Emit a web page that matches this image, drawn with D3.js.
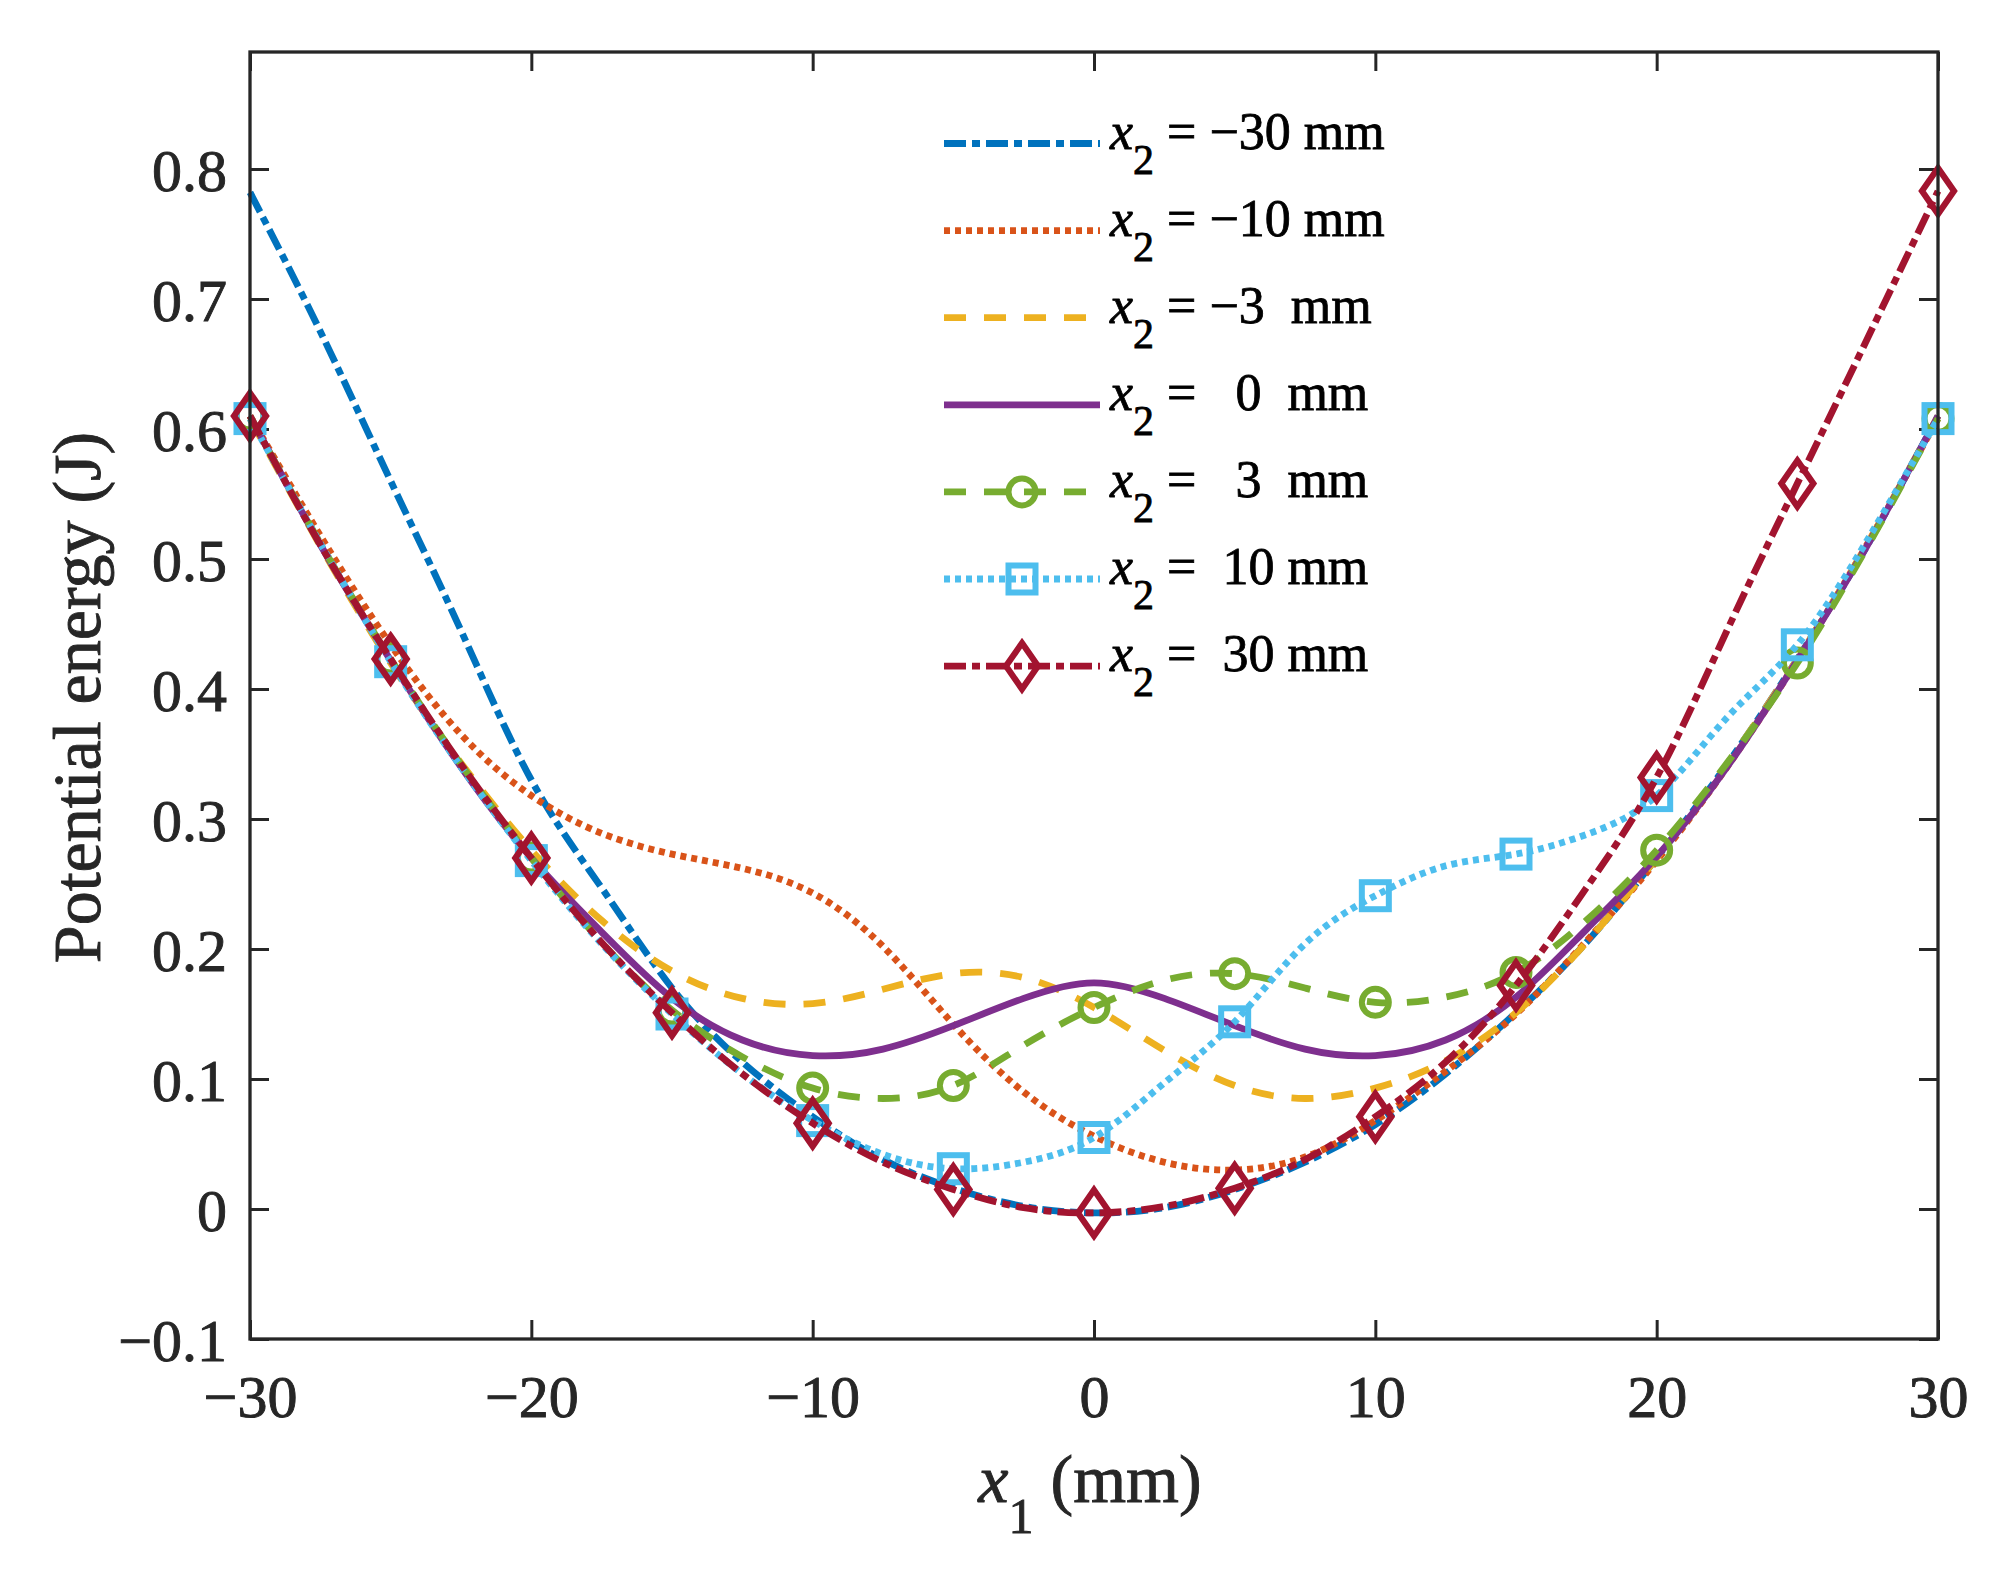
<!DOCTYPE html>
<html>
<head>
<meta charset="utf-8">
<script src="https://cdn.jsdelivr.net/npm/d3@7"></script>
<style>
  html, body { margin: 0; padding: 0; background: #fff; }
  svg { display: block; font-family: "Liberation Serif", "Times New Roman", Times, serif; }
  text { white-space: pre; }
</style>
</head>
<body>
<svg id="chart" width="2008" height="1576"></svg>
<script>
// ---------------- DATA ----------------
const x1Values = [-30,-27.5,-25,-22.5,-20,-17.5,-15,-12.5,-10,-7.5,-5,-2.5,0,2.5,5,7.5,10,12.5,15,17.5,20,22.5,25,27.5,30];

const potX2m30 = [0.782,0.675,0.560,0.445,0.330,0.247,0.170,0.113,0.071,0.038,0.016,0.002,-0.003,0.001,0.015,0.036,0.065,0.104,0.151,0.205,0.270,0.342,0.423,0.511,0.610];
const potX2m10 = [0.610,0.518,0.434,0.365,0.318,0.289,0.273,0.262,0.243,0.202,0.142,0.090,0.056,0.036,0.030,0.040,0.068,0.106,0.150,0.206,0.268,0.340,0.422,0.512,0.608];
const potX2m3  = [0.608,0.510,0.420,0.343,0.276,0.222,0.183,0.162,0.158,0.169,0.181,0.178,0.155,0.122,0.095,0.085,0.093,0.114,0.151,0.205,0.270,0.342,0.423,0.512,0.610];
const potX2z0  = [0.610,0.511,0.422,0.340,0.270,0.213,0.162,0.130,0.118,0.123,0.141,0.162,0.174,0.162,0.141,0.123,0.118,0.130,0.163,0.215,0.271,0.340,0.422,0.511,0.610];
const potX2p3  = [0.610,0.512,0.423,0.342,0.270,0.205,0.153,0.117,0.093,0.085,0.095,0.126,0.155,0.176,0.181,0.170,0.159,0.163,0.182,0.222,0.276,0.343,0.420,0.510,0.608];
const potX2p10 = [0.608,0.512,0.421,0.340,0.268,0.204,0.150,0.104,0.068,0.042,0.031,0.036,0.055,0.097,0.144,0.204,0.241,0.264,0.273,0.288,0.318,0.378,0.434,0.515,0.608];
const potX2p30 = [0.610,0.511,0.423,0.342,0.270,0.205,0.151,0.104,0.066,0.036,0.015,0.001,-0.003,0.002,0.016,0.038,0.071,0.113,0.172,0.247,0.332,0.445,0.558,0.670,0.783];

const seriesNames = ["−30 mm", "−10 mm", "−3  mm", "  0  mm", "  3  mm", " 10 mm", " 30 mm"];
const xTickValues = [-30,-20,-10,0,10,20,30];
const xTickLabels = ["−30","−20","−10","0","10","20","30"];
const yTickValues = [-0.1,0,0.1,0.2,0.3,0.4,0.5,0.6,0.7,0.8];
const yTickLabels = ["−0.1","0","0.1","0.2","0.3","0.4","0.5","0.6","0.7","0.8"];
const xDomain = [-30, 30];
const yDomain = [-0.1, 0.89];

// ---------------- STYLES ----------------
const seriesValues = [potX2m30, potX2m10, potX2m3, potX2z0, potX2p3, potX2p10, potX2p30];
const colors = ["#0072BD","#D95319","#EDB120","#7E2F8E","#77AC30","#4DBEEE","#A2142F"];
const dashes = ["22,6,8,6","6,5","22,18",null,"22,18","6,5","22,6,8,6"];
const markers = [null,null,null,null,"circle","square","diamond"];
const fontStack = '"Liberation Serif", "Times New Roman", Times, serif';

const svg = d3.select("#chart");
const L = 250, R = 1938, T = 52, B = 1339;
const axisColor = "#262626";
const lineW = 6.8;

const x = d3.scaleLinear().domain(xDomain).range([L, R]);
const y = d3.scaleLinear().domain(yDomain).range([B, T]);

// axes
const tickLen = 19;
const gx = svg.append("g").attr("transform", `translate(0,${B})`)
  .call(d3.axisBottom(x).tickValues(xTickValues).tickSize(-tickLen).tickSizeOuter(0)
        .tickFormat((d,i) => xTickLabels[i]));
gx.selectAll("text").attr("y", 78).attr("dy", 0).attr("font-size", 60);
const gxt = svg.append("g").attr("transform", `translate(0,${T})`)
  .call(d3.axisTop(x).tickValues(xTickValues).tickSize(-tickLen).tickSizeOuter(0).tickFormat(""));
const gy = svg.append("g").attr("transform", `translate(${L},0)`)
  .call(d3.axisLeft(y).tickValues(yTickValues).tickSize(-tickLen).tickSizeOuter(0)
        .tickFormat((d,i) => yTickLabels[i]));
gy.selectAll("text").attr("x", -23).attr("dy", "0.35em").attr("font-size", 60);
const gyr = svg.append("g").attr("transform", `translate(${R},0)`)
  .call(d3.axisRight(y).tickValues(yTickValues).tickSize(-tickLen).tickSizeOuter(0).tickFormat(""));
[gx, gxt, gy, gyr].forEach(g => {
  g.attr("font-family", fontStack);
  g.select(".domain").remove();
  g.selectAll(".tick line").attr("stroke", axisColor).attr("stroke-width", 3);
  g.selectAll("text").attr("fill", axisColor).attr("stroke", axisColor).attr("stroke-width", 0.9);
});

// lines
const line = d3.line().x(d => x(d[0])).y(d => y(d[1])).curve(d3.curveNatural);
const mSize = {circle: 13.5, square: 13.5, hw: 16, hh: 23};

function drawMarker(g, type, cx, cy, color) {
  if (type === "circle") {
    g.append("circle").attr("cx", cx).attr("cy", cy).attr("r", mSize.circle)
      .attr("fill", "none").attr("stroke", color).attr("stroke-width", 6);
  } else if (type === "square") {
    g.append("rect").attr("x", cx - mSize.square).attr("y", cy - mSize.square)
      .attr("width", 2*mSize.square).attr("height", 2*mSize.square)
      .attr("fill", "none").attr("stroke", color).attr("stroke-width", 6);
  } else if (type === "diamond") {
    g.append("path")
      .attr("d", `M${cx},${cy-mSize.hh}L${cx+mSize.hw},${cy}L${cx},${cy+mSize.hh}L${cx-mSize.hw},${cy}Z`)
      .attr("fill", "none").attr("stroke", color).attr("stroke-width", 6.2).attr("stroke-linejoin", "miter");
  }
}

const plotG = svg.append("g");
seriesValues.forEach((vals, i) => {
  const pts = x1Values.map((xv, j) => [xv, vals[j]]);
  const g = plotG.append("g");
  g.append("path").attr("d", line(pts)).attr("fill", "none")
    .attr("stroke", colors[i]).attr("stroke-width", lineW)
    .attr("stroke-dasharray", dashes[i]);
  if (markers[i]) {
    pts.filter(p => p[0] % 5 === 0).forEach(p => drawMarker(g, markers[i], x(p[0]), y(p[1]), colors[i]));
  }
});

// box
svg.append("rect").attr("x", L).attr("y", T).attr("width", R - L).attr("height", B - T)
  .attr("fill", "none").attr("stroke", axisColor).attr("stroke-width", 3.3);

// axis labels
const xl = svg.append("text").attr("x", (L + R) / 2 - 4).attr("y", 1502).attr("text-anchor", "middle")
  .attr("font-size", 68).attr("fill", axisColor).attr("stroke", axisColor).attr("stroke-width", 0.9);
xl.append("tspan").attr("font-style", "italic").text("x");
xl.append("tspan").attr("font-size", 50).attr("dy", 31).text("1");
xl.append("tspan").attr("dy", -31).text(" (mm)");

svg.append("text").attr("transform", `translate(100,${(T + B) / 2 + 2}) rotate(-90)`)
  .attr("text-anchor", "middle").attr("font-size", 68).attr("fill", axisColor)
  .attr("stroke", axisColor).attr("stroke-width", 0.9)
  .text("Potential energy (J)");

// legend
const legX0 = 944, legX1 = 1100, legY0 = 143.5, legDy = 87.1, legText = 1110;
const leg = svg.append("g");
seriesNames.forEach((name, i) => {
  const ly = legY0 + i * legDy;
  leg.append("line").attr("x1", legX0).attr("x2", legX1).attr("y1", ly).attr("y2", ly)
    .attr("stroke", colors[i]).attr("stroke-width", lineW).attr("stroke-dasharray", dashes[i]);
  if (markers[i]) drawMarker(leg, markers[i], (legX0 + legX1) / 2, ly, colors[i]);
  const t = leg.append("text").attr("x", legText).attr("y", ly + 5).attr("font-size", 52)
    .attr("fill", "#000").attr("stroke", "#000").attr("stroke-width", 0.8);
  t.append("tspan").attr("font-style", "italic").text("x");
  t.append("tspan").attr("font-size", 42).attr("dy", 25).text("2");
  t.append("tspan").attr("dy", -25).text(" = " + name);
});
</script>
</body>
</html>
